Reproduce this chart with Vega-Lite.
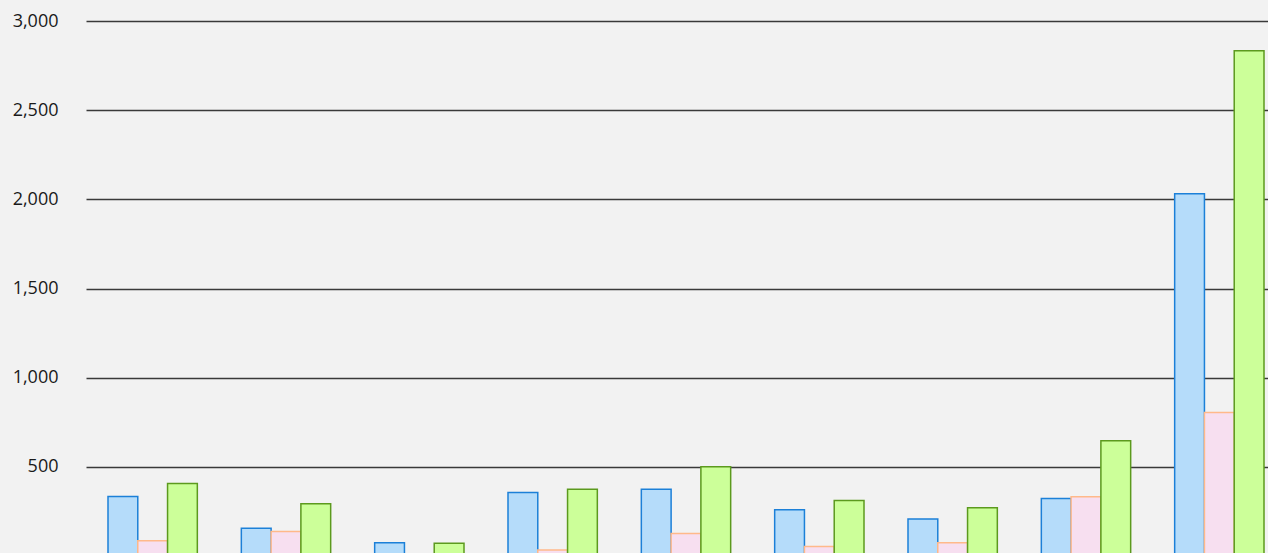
{
  "$schema": "https://vega.github.io/schema/vega-lite/v6.json",
  "autosize": "none",
  "padding": {"left": 86, "top": 21, "right": 0, "bottom": 0},
  "width": 1182,
  "height": 532,
  "background": "#f2f2f2",
  "config": {"view": {"stroke": null}},
  "data": {
    "values": [
      {"group": "1", "series": "s1", "value": 333},
      {"group": "1", "series": "s2", "value": 85},
      {"group": "1", "series": "s3", "value": 406},
      {"group": "2", "series": "s1", "value": 156},
      {"group": "2", "series": "s2", "value": 137},
      {"group": "2", "series": "s3", "value": 293},
      {"group": "3", "series": "s1", "value": 74},
      {"group": "3", "series": "s2", "value": 0},
      {"group": "3", "series": "s3", "value": 72},
      {"group": "4", "series": "s1", "value": 356},
      {"group": "4", "series": "s2", "value": 33},
      {"group": "4", "series": "s3", "value": 375},
      {"group": "5", "series": "s1", "value": 375},
      {"group": "5", "series": "s2", "value": 126},
      {"group": "5", "series": "s3", "value": 500},
      {"group": "6", "series": "s1", "value": 259},
      {"group": "6", "series": "s2", "value": 53},
      {"group": "6", "series": "s3", "value": 311},
      {"group": "7", "series": "s1", "value": 208},
      {"group": "7", "series": "s2", "value": 74},
      {"group": "7", "series": "s3", "value": 270},
      {"group": "8", "series": "s1", "value": 322},
      {"group": "8", "series": "s2", "value": 332},
      {"group": "8", "series": "s3", "value": 646},
      {"group": "9", "series": "s1", "value": 2031},
      {"group": "9", "series": "s2", "value": 804},
      {"group": "9", "series": "s3", "value": 2833}
    ]
  },
  "mark": {"type": "bar", "strokeWidth": 1.5},
  "encoding": {
    "x": {
      "field": "group",
      "type": "nominal",
      "sort": null,
      "scale": {"range": [0, 1200], "paddingInner": 0.33, "paddingOuter": 0.165},
      "axis": null
    },
    "xOffset": {
      "field": "series",
      "type": "nominal",
      "sort": ["s1", "s2", "s3"],
      "scale": {"paddingInner": 0, "paddingOuter": 0}
    },
    "y": {
      "field": "value",
      "type": "quantitative",
      "scale": {"domain": [0, 3000], "range": [535, 0], "nice": false},
      "axis": {
        "title": null,
        "values": [500, 1000, 1500, 2000, 2500, 3000],
        "format": ",.0f",
        "domain": false,
        "ticks": false,
        "labelPadding": 28,
        "labelFont": "Open Sans",
        "labelFontSize": 18,
        "labelColor": "#1a1a1a",
        "gridColor": "#3a3a3a",
        "gridWidth": 1.6
      }
    },
    "fill": {
      "field": "series",
      "type": "nominal",
      "scale": {"domain": ["s1", "s2", "s3"], "range": ["#b5dcfa", "#f7dff0", "#ccff99"]},
      "legend": null
    },
    "stroke": {
      "field": "series",
      "type": "nominal",
      "scale": {"domain": ["s1", "s2", "s3"], "range": ["#1c80d8", "#ffb98a", "#5c9a1e"]},
      "legend": null
    }
  }
}
